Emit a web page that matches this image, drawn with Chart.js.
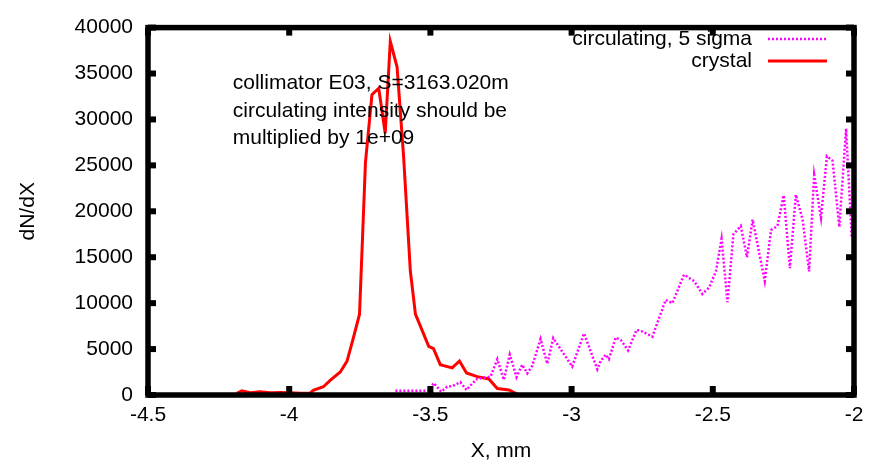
<!DOCTYPE html>
<html>
<head>
<meta charset="utf-8">
<script src="https://cdn.jsdelivr.net/npm/chart.js@4.4.1/dist/chart.umd.min.js"></script>
<style>
  body { margin: 0; background: #fff; }
</style>
</head>
<body>
<canvas id="myChart" width="884" height="464"></canvas>
<script>
// crystal (red, solid)
const crystalX = [-4.185, -4.168, -4.138, -4.103, -4.067, -4.032, -3.996, -3.961, -3.926, -3.915,
  -3.879, -3.855, -3.819, -3.795, -3.773, -3.751, -3.730, -3.707, -3.683, -3.660,
  -3.642, -3.618, -3.595, -3.571, -3.553, -3.506, -3.489, -3.465, -3.423, -3.397,
  -3.372, -3.334, -3.293, -3.263, -3.222, -3.193];
const crystalY = [180, 450, 250, 350, 250, 280, 250, 200, 200, 500,
  900, 1600, 2500, 3700, 6200, 8800, 25300, 32700, 33400, 28500,
  38500, 35700, 26000, 13500, 8800, 5300, 5050, 3300, 2950, 3700,
  2400, 2000, 1750, 700, 550, 100];

// circulating, 5 sigma (magenta, dotted)
const circX = [-3.624, -3.506, -3.500, -3.488, -3.462, -3.441, -3.423, -3.394, -3.372, -3.352,
  -3.334, -3.317, -3.287, -3.263, -3.240, -3.219, -3.195, -3.175, -3.157, -3.139,
  -3.110, -3.086, -3.065, -2.998, -2.956, -2.909, -2.897, -2.879, -2.868, -2.844,
  -2.826, -2.800, -2.770, -2.749, -2.714, -2.667, -2.643, -2.602, -2.566, -2.537,
  -2.513, -2.489, -2.469, -2.448, -2.427, -2.401, -2.379, -2.359, -2.316, -2.294,
  -2.271, -2.249, -2.227, -2.206, -2.182, -2.159, -2.141, -2.117, -2.096, -2.076,
  -2.052, -2.028, -2.008];
const circY = [450, 450, 800, 1300, 350, 900, 950, 1400, 550, 1250,
  1750, 1850, 2000, 3900, 1650, 4400, 1950, 3300, 2350, 3200,
  6100, 3400, 6200, 3100, 6700, 2800, 3700, 4400, 3900, 6250,
  6000, 4850, 7100, 6900, 6350, 10350, 10000, 13100, 12400, 11000,
  11700, 13450, 17000, 10100, 17500, 18400, 15000, 19100, 12400, 17950,
  18400, 21750, 13800, 21800, 19100, 13450, 23950, 19300, 26000, 25500,
  18300, 29000, 17100];

const xTicks = [-4.5, -4, -3.5, -3, -2.5, -2];
const yTicks = [0, 5000, 10000, 15000, 20000, 25000, 30000, 35000, 40000];
const noteLines = ['collimator E03, S=3163.020m', 'circulating intensity should be', 'multiplied by 1e+09'];

const FONT = 'Liberation Sans, Arial, sans-serif';

const toPoints = (xs, ys) => xs.map((x, i) => ({ x: x, y: ys[i] }));

// gnuplot style border with inward ticks
const framePlugin = {
  id: 'frame',
  afterDatasetsDraw(chart) {
    const { ctx, chartArea: a, scales } = chart;
    ctx.save();
    ctx.fillStyle = '#000';
    xTicks.forEach(v => {
      const px = scales.x.getPixelForValue(v);
      ctx.fillRect(px - 3, a.bottom - 9, 6, 9);
      ctx.fillRect(px - 3, a.top, 6, 8);
    });
    yTicks.forEach(v => {
      const py = scales.y.getPixelForValue(v);
      ctx.fillRect(a.left, py - 3, 8, 6);
      ctx.fillRect(a.right - 8, py - 3, 8, 6);
    });
    ctx.strokeStyle = '#000';
    ctx.lineWidth = 5.5;
    ctx.strokeRect(a.left, a.top, a.right - a.left, a.bottom - a.top);

    // legend
    ctx.font = '21px ' + FONT;
    ctx.textAlign = 'right';
    ctx.textBaseline = 'middle';
    ctx.fillStyle = '#000';
    chart.data.datasets.forEach((ds, i) => {
      const y = 39 + i * 22;
      ctx.fillText(ds.label, 752, y);
      ctx.beginPath();
      ctx.strokeStyle = ds.borderColor;
      ctx.lineWidth = ds.borderWidth;
      ctx.setLineDash(ds.borderDash || []);
      ctx.moveTo(768, y);
      ctx.lineTo(827, y);
      ctx.stroke();
    });
    ctx.setLineDash([]);

    // note
    ctx.textAlign = 'left';
    const nx = scales.x.getPixelForValue(-4.2);
    noteLines.forEach((t, i) => {
      const ny = scales.y.getPixelForValue(33900) + i * 27.5;
      ctx.fillText(t, nx, ny);
    });
    ctx.restore();
  }
};

new Chart(document.getElementById('myChart'), {
  type: 'scatter',
  data: {
    datasets: [{
      label: 'circulating, 5 sigma',
      data: toPoints(circX, circY),
      showLine: true,
      borderColor: 'rgb(255, 0, 255)',
      borderWidth: 2.5,
      borderDash: [2, 2],
      pointRadius: 0,
      tension: 0
    }, {
      label: 'crystal',
      data: toPoints(crystalX, crystalY),
      showLine: true,
      borderColor: 'rgb(255, 0, 0)',
      borderWidth: 3,
      pointRadius: 0,
      tension: 0
    }]
  },
  options: {
    responsive: false,
    animation: false,
    devicePixelRatio: 1,
    layout: { padding: { left: 0, top: 18, right: 30, bottom: 0 } },
    plugins: {
      legend: { display: false },
      tooltip: { enabled: false }
    },
    scales: {
      x: {
        type: 'linear',
        min: -4.5,
        max: -2,
        afterFit: s => { s.height = 69; },
        afterBuildTicks: s => { s.ticks = xTicks.map(v => ({ value: v })); },
        grid: { display: false, drawTicks: false },
        border: { display: false },
        ticks: { padding: 8, color: '#000', font: { family: FONT, size: 21 }, callback: v => String(v) },
        title: { display: true, text: 'X, mm', color: '#000', padding: { top: 0, bottom: 0 }, font: { family: FONT, size: 21 } }
      },
      y: {
        type: 'linear',
        min: 0,
        max: 40000,
        afterFit: s => { s.width = 148; },
        afterBuildTicks: s => { s.ticks = yTicks.map(v => ({ value: v })); },
        grid: { display: false, drawTicks: false },
        border: { display: false },
        ticks: { padding: 15, color: '#000', font: { family: FONT, size: 21 }, callback: v => String(v) },
        title: { display: true, text: 'dN/dX', color: '#000', padding: { top: 16, bottom: 0 }, font: { family: FONT, size: 21 } }
      }
    }
  },
  plugins: [framePlugin]
});
</script>
</body>
</html>
